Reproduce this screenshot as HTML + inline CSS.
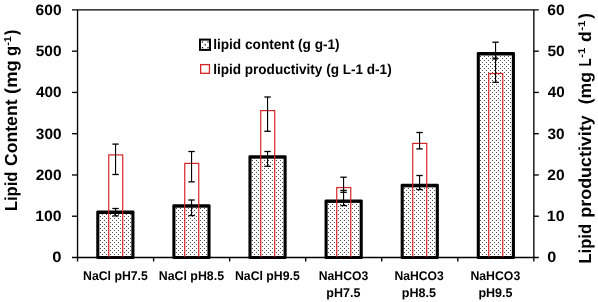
<!DOCTYPE html>
<html lang="en"><head><meta charset="utf-8"><title>Lipid content and productivity</title>
<style>html,body{margin:0;padding:0;background:#fff}body{width:598px;height:302px;overflow:hidden}svg{display:block}</style>
</head><body>
<svg width="598" height="302" viewBox="0 0 598 302">
<defs><pattern id="dots" x="0" y="0" width="4" height="4" patternUnits="userSpaceOnUse"><rect x="0" y="0" width="1" height="1" fill="#505050"/><rect x="2" y="2" width="1" height="1" fill="#505050"/></pattern></defs>
<rect x="0" y="0" width="598" height="302" fill="#fff"/>
<rect x="96.25" y="210.50" width="38.2" height="48.50" rx="1.3" fill="#000"/>
<rect x="99.35" y="214.00" width="32.00" height="42.00" fill="#fff"/>
<rect x="99.35" y="214.00" width="32.00" height="42.00" fill="url(#dots)"/>
<rect x="172.35" y="204.20" width="38.2" height="54.80" rx="1.3" fill="#000"/>
<rect x="175.45" y="207.70" width="32.00" height="48.30" fill="#fff"/>
<rect x="175.45" y="207.70" width="32.00" height="48.30" fill="url(#dots)"/>
<rect x="248.45" y="155.20" width="38.2" height="103.80" rx="1.3" fill="#000"/>
<rect x="251.55" y="158.70" width="32.00" height="97.30" fill="#fff"/>
<rect x="251.55" y="158.70" width="32.00" height="97.30" fill="url(#dots)"/>
<rect x="324.55" y="199.40" width="38.2" height="59.60" rx="1.3" fill="#000"/>
<rect x="327.65" y="202.90" width="32.00" height="53.10" fill="#fff"/>
<rect x="327.65" y="202.90" width="32.00" height="53.10" fill="url(#dots)"/>
<rect x="400.65" y="183.85" width="38.2" height="75.15" rx="1.3" fill="#000"/>
<rect x="403.75" y="187.35" width="32.00" height="68.65" fill="#fff"/>
<rect x="403.75" y="187.35" width="32.00" height="68.65" fill="url(#dots)"/>
<rect x="476.75" y="52.00" width="38.2" height="207.00" rx="1.3" fill="#000"/>
<rect x="479.85" y="55.50" width="32.00" height="200.50" fill="#fff"/>
<rect x="479.85" y="55.50" width="32.00" height="200.50" fill="url(#dots)"/>
<rect x="108.75" y="154.90" width="14.0" height="102.60" fill="none" stroke="#d62626" stroke-width="1.2"/>
<rect x="184.75" y="163.40" width="14.0" height="94.10" fill="none" stroke="#d62626" stroke-width="1.2"/>
<rect x="260.75" y="110.60" width="14.0" height="146.90" fill="none" stroke="#d62626" stroke-width="1.2"/>
<rect x="336.75" y="187.55" width="14.0" height="69.95" fill="none" stroke="#d62626" stroke-width="1.2"/>
<rect x="412.75" y="143.40" width="14.0" height="114.10" fill="none" stroke="#d62626" stroke-width="1.2"/>
<rect x="488.75" y="73.50" width="14.0" height="184.00" fill="none" stroke="#d62626" stroke-width="1.2"/>
<line x1="115.55" y1="144.1" x2="115.55" y2="174.5" stroke="#000" stroke-width="1.15"/>
<line x1="112.35" y1="144.1" x2="118.75" y2="144.1" stroke="#000" stroke-width="1.3"/>
<line x1="112.35" y1="174.5" x2="118.75" y2="174.5" stroke="#000" stroke-width="1.3"/>
<line x1="191.55" y1="151.5" x2="191.55" y2="181.85" stroke="#000" stroke-width="1.15"/>
<line x1="188.35" y1="151.5" x2="194.75" y2="151.5" stroke="#000" stroke-width="1.3"/>
<line x1="188.35" y1="181.85" x2="194.75" y2="181.85" stroke="#000" stroke-width="1.3"/>
<line x1="267.55" y1="97.0" x2="267.55" y2="131.3" stroke="#000" stroke-width="1.15"/>
<line x1="264.35" y1="97.0" x2="270.75" y2="97.0" stroke="#000" stroke-width="1.3"/>
<line x1="264.35" y1="131.3" x2="270.75" y2="131.3" stroke="#000" stroke-width="1.3"/>
<line x1="343.55" y1="177.2" x2="343.55" y2="205.55" stroke="#000" stroke-width="1.15"/>
<line x1="340.35" y1="177.2" x2="346.75" y2="177.2" stroke="#000" stroke-width="1.3"/>
<line x1="340.35" y1="190.4" x2="346.75" y2="190.4" stroke="#000" stroke-width="1.3"/>
<line x1="340.35" y1="192.3" x2="346.75" y2="192.3" stroke="#000" stroke-width="1.3"/>
<line x1="340.35" y1="205.55" x2="346.75" y2="205.55" stroke="#000" stroke-width="1.3"/>
<line x1="419.55" y1="132.5" x2="419.55" y2="148.9" stroke="#000" stroke-width="1.15"/>
<line x1="416.35" y1="132.5" x2="422.75" y2="132.5" stroke="#000" stroke-width="1.3"/>
<line x1="416.35" y1="148.9" x2="422.75" y2="148.9" stroke="#000" stroke-width="1.3"/>
<line x1="495.55" y1="42.2" x2="495.55" y2="82.3" stroke="#000" stroke-width="1.15"/>
<line x1="492.35" y1="42.2" x2="498.75" y2="42.2" stroke="#000" stroke-width="1.3"/>
<line x1="492.35" y1="82.3" x2="498.75" y2="82.3" stroke="#000" stroke-width="1.3"/>
<line x1="115.55" y1="208.5" x2="115.55" y2="215.9" stroke="#000" stroke-width="1.15"/>
<line x1="112.35" y1="208.5" x2="118.75" y2="208.5" stroke="#000" stroke-width="1.3"/>
<line x1="112.35" y1="215.9" x2="118.75" y2="215.9" stroke="#000" stroke-width="1.3"/>
<line x1="191.55" y1="200.0" x2="191.55" y2="215.6" stroke="#000" stroke-width="1.15"/>
<line x1="188.35" y1="200.0" x2="194.75" y2="200.0" stroke="#000" stroke-width="1.3"/>
<line x1="188.35" y1="215.6" x2="194.75" y2="215.6" stroke="#000" stroke-width="1.3"/>
<line x1="267.55" y1="151.5" x2="267.55" y2="166.3" stroke="#000" stroke-width="1.15"/>
<line x1="264.35" y1="151.5" x2="270.75" y2="151.5" stroke="#000" stroke-width="1.3"/>
<line x1="264.35" y1="166.3" x2="270.75" y2="166.3" stroke="#000" stroke-width="1.3"/>
<line x1="419.55" y1="175.5" x2="419.55" y2="189.6" stroke="#000" stroke-width="1.15"/>
<line x1="416.35" y1="175.5" x2="422.75" y2="175.5" stroke="#000" stroke-width="1.3"/>
<line x1="416.35" y1="189.6" x2="422.75" y2="189.6" stroke="#000" stroke-width="1.3"/>
<line x1="492.45" y1="58.5" x2="497.85" y2="58.5" stroke="#000" stroke-width="2.2"/>
<g stroke="#000" stroke-width="1.35" fill="none">
<line x1="72" y1="9.9" x2="538.8" y2="9.9"/>
<line x1="77.55" y1="9.9" x2="77.55" y2="261.5"/>
<line x1="533.85" y1="9.9" x2="533.85" y2="261.5"/>
<line x1="72" y1="257.5" x2="538.8" y2="257.5" stroke-width="1.5"/>
<line x1="72" y1="216.23" x2="77.55" y2="216.23"/>
<line x1="533.85" y1="216.23" x2="538.8" y2="216.23"/>
<line x1="72" y1="174.97" x2="77.55" y2="174.97"/>
<line x1="533.85" y1="174.97" x2="538.8" y2="174.97"/>
<line x1="72" y1="133.70" x2="77.55" y2="133.70"/>
<line x1="533.85" y1="133.70" x2="538.8" y2="133.70"/>
<line x1="72" y1="92.43" x2="77.55" y2="92.43"/>
<line x1="533.85" y1="92.43" x2="538.8" y2="92.43"/>
<line x1="72" y1="51.17" x2="77.55" y2="51.17"/>
<line x1="533.85" y1="51.17" x2="538.8" y2="51.17"/>
<line x1="153.60" y1="257.5" x2="153.60" y2="261.5"/>
<line x1="229.65" y1="257.5" x2="229.65" y2="261.5"/>
<line x1="305.70" y1="257.5" x2="305.70" y2="261.5"/>
<line x1="381.75" y1="257.5" x2="381.75" y2="261.5"/>
<line x1="457.80" y1="257.5" x2="457.80" y2="261.5"/>
</g>
<g font-family="'Liberation Sans', Arial, sans-serif" font-weight="bold" fill="#000" text-rendering="geometricPrecision">
<text x="52.34" y="262.30" font-size="15.0" textLength="9.24" lengthAdjust="spacingAndGlyphs">0</text>
<text x="547.26" y="262.30" font-size="15.0" textLength="9.00" lengthAdjust="spacingAndGlyphs">0</text>
<text x="35.21" y="221.03" font-size="15.0" textLength="26.34" lengthAdjust="spacingAndGlyphs">100</text>
<text x="546.89" y="221.03" font-size="15.0" textLength="17.76" lengthAdjust="spacingAndGlyphs">10</text>
<text x="35.66" y="179.77" font-size="15.0" textLength="25.87" lengthAdjust="spacingAndGlyphs">200</text>
<text x="547.36" y="179.77" font-size="15.0" textLength="17.28" lengthAdjust="spacingAndGlyphs">20</text>
<text x="35.85" y="138.50" font-size="15.0" textLength="25.68" lengthAdjust="spacingAndGlyphs">300</text>
<text x="547.55" y="138.50" font-size="15.0" textLength="17.08" lengthAdjust="spacingAndGlyphs">30</text>
<text x="35.97" y="97.23" font-size="15.0" textLength="25.56" lengthAdjust="spacingAndGlyphs">400</text>
<text x="547.67" y="97.23" font-size="15.0" textLength="16.96" lengthAdjust="spacingAndGlyphs">40</text>
<text x="35.72" y="55.97" font-size="15.0" textLength="25.81" lengthAdjust="spacingAndGlyphs">500</text>
<text x="547.42" y="55.97" font-size="15.0" textLength="17.21" lengthAdjust="spacingAndGlyphs">50</text>
<text x="35.63" y="14.70" font-size="15.0" textLength="25.91" lengthAdjust="spacingAndGlyphs">600</text>
<text x="547.33" y="14.70" font-size="15.0" textLength="17.31" lengthAdjust="spacingAndGlyphs">60</text>
<text x="83.08" y="280.10" font-size="12.6" textLength="64.76" lengthAdjust="spacingAndGlyphs">NaCl pH7.5</text>
<text x="158.77" y="280.10" font-size="12.6" textLength="65.27" lengthAdjust="spacingAndGlyphs">NaCl pH8.5</text>
<text x="234.98" y="280.10" font-size="12.6" textLength="64.86" lengthAdjust="spacingAndGlyphs">NaCl pH9.5</text>
<text x="318.78" y="280.10" font-size="12.6" textLength="49.46" lengthAdjust="spacingAndGlyphs">NaHCO3</text>
<text x="326.28" y="297.30" font-size="12.6" textLength="34.07" lengthAdjust="spacingAndGlyphs">pH7.5</text>
<text x="394.39" y="280.10" font-size="12.6" textLength="49.35" lengthAdjust="spacingAndGlyphs">NaHCO3</text>
<text x="401.77" y="297.30" font-size="12.6" textLength="34.28" lengthAdjust="spacingAndGlyphs">pH8.5</text>
<text x="470.38" y="280.10" font-size="12.6" textLength="49.87" lengthAdjust="spacingAndGlyphs">NaHCO3</text>
<text x="478.38" y="297.30" font-size="12.6" textLength="34.07" lengthAdjust="spacingAndGlyphs">pH9.5</text>
<text x="213.15" y="49.10" font-size="14.0" textLength="126.53" lengthAdjust="spacingAndGlyphs">lipid content (g g-1)</text>
<text x="213.15" y="73.90" font-size="14.0" textLength="178.52" lengthAdjust="spacingAndGlyphs">lipid productivity (g L-1 d-1)</text>
<text transform="translate(17.10,0) rotate(-90)" font-size="17.4"><tspan x="-211.11" y="0.00" font-size="17.4" textLength="39.60" lengthAdjust="spacingAndGlyphs">Lipid</tspan> <tspan x="-166.12" y="0.00" font-size="17.4" textLength="66.74" lengthAdjust="spacingAndGlyphs">Content</tspan> <tspan x="-93.91" y="0.00" font-size="17.4" textLength="33.54" lengthAdjust="spacingAndGlyphs">(mg</tspan> <tspan x="-56.08" y="0.00" font-size="17.4" textLength="10.08" lengthAdjust="spacingAndGlyphs">g</tspan><tspan x="-45.82" y="-5.90" font-size="10.0" textLength="9.52" lengthAdjust="spacingAndGlyphs">-1</tspan><tspan x="-35.02" y="0.00" font-size="17.4" textLength="5.19" lengthAdjust="spacingAndGlyphs">)</tspan></text>
<text transform="translate(590.70,0) rotate(-90)" font-size="17.4"><tspan x="-263.51" y="0.00" font-size="17.4" textLength="39.50" lengthAdjust="spacingAndGlyphs">Lipid</tspan> <tspan x="-217.68" y="0.00" font-size="17.4" textLength="102.38" lengthAdjust="spacingAndGlyphs">productivity</tspan>  <tspan x="-104.38" y="0.00" font-size="17.4" textLength="32.36" lengthAdjust="spacingAndGlyphs">(mg</tspan> <tspan x="-66.59" y="0.00" font-size="17.4" textLength="8.09" lengthAdjust="spacingAndGlyphs">L</tspan><tspan x="-57.84" y="-5.60" font-size="10.0" textLength="10.06" lengthAdjust="spacingAndGlyphs">-1</tspan> <tspan x="-42.12" y="0.00" font-size="17.4" textLength="10.67" lengthAdjust="spacingAndGlyphs">d</tspan><tspan x="-30.85" y="-5.60" font-size="10.0" textLength="10.27" lengthAdjust="spacingAndGlyphs">-1</tspan><tspan x="-18.82" y="0.00" font-size="17.4" textLength="5.55" lengthAdjust="spacingAndGlyphs">)</tspan></text>
</g>
<rect x="200" y="39.6" width="10" height="10.3" fill="#fff" stroke="#000" stroke-width="2"/>
<rect x="201.85" y="41.35" width="1.3" height="1.3" fill="#111"/>
<rect x="207.35" y="41.35" width="1.3" height="1.3" fill="#111"/>
<rect x="204.60" y="44.15" width="1.3" height="1.3" fill="#111"/>
<rect x="201.85" y="46.95" width="1.3" height="1.3" fill="#111"/>
<rect x="207.35" y="46.95" width="1.3" height="1.3" fill="#111"/>
<rect x="200.65" y="64.6" width="8.8" height="8.7" fill="#fff" stroke="#d62626" stroke-width="1.3"/>
</svg>
</body></html>
